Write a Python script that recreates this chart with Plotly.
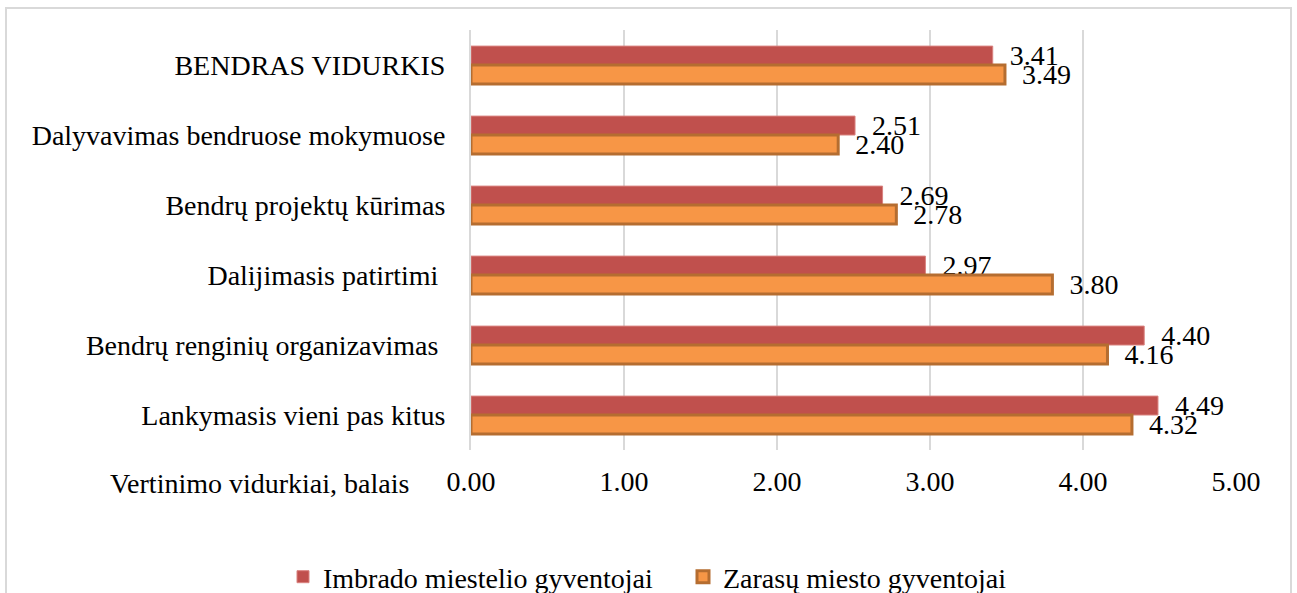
import plotly.graph_objects as go

categories = [
    'BENDRAS VIDURKIS',
    'Dalyvavimas bendruose mokymuose',
    'Bendrų projektų kūrimas',
    'Dalijimasis patirtimi ',
    'Bendrų renginių organizavimas ',
    'Lankymasis vieni pas kitus',
]
imbrado = [3.41, 2.51, 2.69, 2.97, 4.40, 4.49]
zarasai = [3.49, 2.40, 2.78, 3.80, 4.16, 4.32]
x_ticks = [0, 1, 2, 3, 4, 5]
x_tick_labels = ['0.00', '1.00', '2.00', '3.00', '4.00', '5.00']

serif = 'Liberation Serif'

fig = go.Figure()
fig.add_trace(go.Bar(
    y=categories, x=imbrado, orientation='h',
    name='Imbrado miestelio gyventojai',
    marker=dict(color='#C0504D', line=dict(color='#D9827F', width=1)),
    text=imbrado, texttemplate='  %{x:.2f}', textposition='outside',
    textfont=dict(family=serif, size=28, color='#000'),
    constraintext='none', cliponaxis=False,
))
fig.add_trace(go.Bar(
    y=categories, x=zarasai, orientation='h',
    name='Zarasų miesto gyventojai',
    marker=dict(color='#F79646', line=dict(color='#B56D30', width=3)),
    text=zarasai, texttemplate='  %{x:.2f}', textposition='outside',
    textfont=dict(family=serif, size=28, color='#000'),
    constraintext='none', cliponaxis=False,
))

fig.update_layout(
    width=1297, height=593,
    barmode='group', bargap=0.46, bargroupgap=0,
    paper_bgcolor='white', plot_bgcolor='white',
    font=dict(family=serif, size=28, color='#000'),
    margin=dict(l=471, r=61, t=30, b=143, autoexpand=False),
    showlegend=True,
    legend=dict(orientation='h', x=(283 - 471) / 765, xanchor='left',
                y=(450 - 577) / 420, yanchor='middle',
                font=dict(family=serif, size=28), itemwidth=30,
                entrywidth=355, entrywidthmode='pixels'),
    xaxis=dict(range=[0, 5], tickvals=x_ticks, ticktext=x_tick_labels,
               showgrid=True, gridcolor='#D9D9D9', gridwidth=2, zeroline=False,
               showline=False, ticks='', tickfont=dict(family=serif, size=28),
               ticklabelstandoff=12),
    yaxis=dict(autorange='reversed', showgrid=False, zeroline=False,
               showline=True, linecolor='#D9D9D9', linewidth=2,
               ticks='', tickfont=dict(family=serif, size=28),
               ticklabelstandoff=18),
    annotations=[dict(
        text='Vertinimo vidurkiai, balais', xref='paper', yref='paper',
        x=-0.079, y=-0.0786, xanchor='right', yanchor='middle', showarrow=False,
        font=dict(family=serif, size=28),
    )],
    shapes=[dict(
        type='rect', xref='paper', yref='paper',
        x0=(6 - 471) / 765, x1=(1291 - 471) / 765,
        y0=(450 - 620) / 420, y1=(450 - 8) / 420,
        line=dict(color='#D9D9D9', width=2), layer='below',
    )],
)

fig.write_html('out.html', config={'displayModeBar': False},
               post_script="document.body.style.margin='0';")
